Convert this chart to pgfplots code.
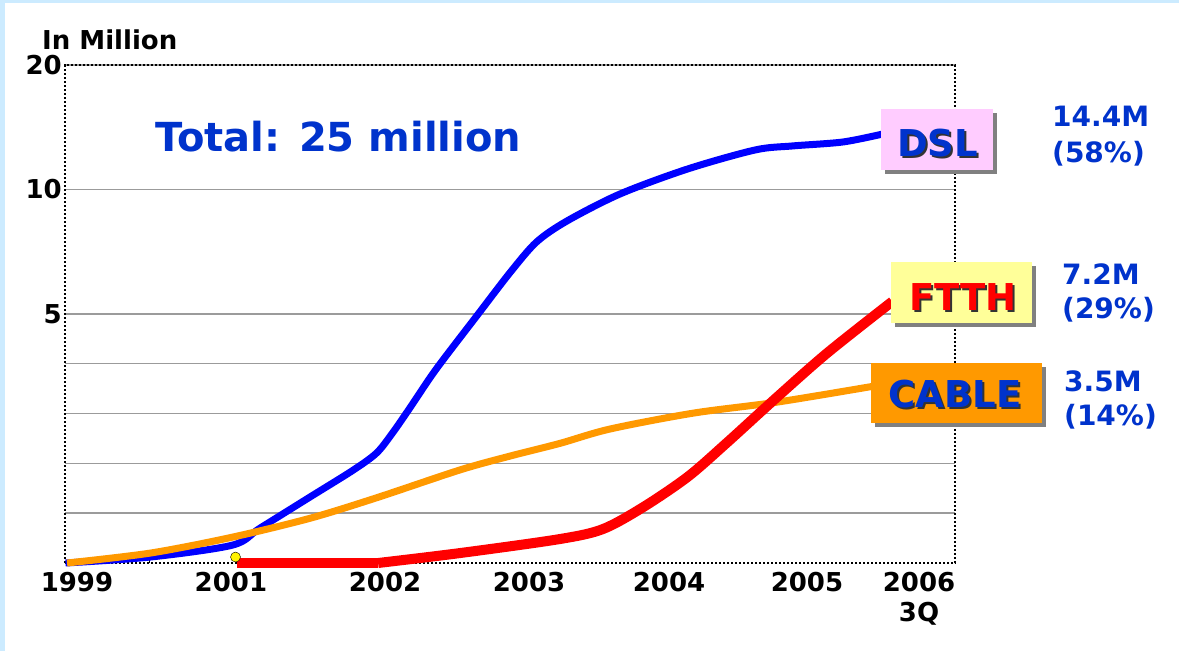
\documentclass[border=0pt]{standalone}
\usepackage{fontspec}
\setmainfont{DejaVu Sans}
\usepackage{pgfplots}
\pgfplotsset{compat=1.18}

\definecolor{bgblue}{RGB}{204,235,255}
\definecolor{txtblue}{RGB}{0,51,204}
\definecolor{lineblue}{RGB}{0,0,255}
\definecolor{lineorange}{RGB}{255,153,0}
\definecolor{gridgray}{RGB}{155,155,155}
\definecolor{pinkbox}{RGB}{255,204,255}
\definecolor{yellowbox}{RGB}{255,255,153}
\definecolor{orangebox}{RGB}{255,153,0}
\definecolor{shadowgray}{RGB}{128,128,128}

\newcommand{\tickfont}{\fontsize{26}{30}\selectfont\bfseries}
\newcommand{\bigfont}{\fontsize{37}{44}\selectfont\bfseries}
\newcommand{\totalfont}{\fontsize{40}{48}\selectfont\bfseries}
\newcommand{\rfont}{\fontsize{28}{33}\selectfont\bfseries}

\newcommand{\shadowtext}[4]{%
  \node[anchor=base, font=\bigfont, text=black!80, inner sep=0pt] at (#1+2,#2-2) {#4};
  \node[anchor=base, font=\bigfont, text=#3, inner sep=0pt] at (#1,#2) {#4};}

\begin{document}
\begin{tikzpicture}
\begin{scope}[x=1pt,y=1pt]
\path[use as bounding box] (0,0) rectangle (1179,651);
\fill[bgblue] (0,0) rectangle (1179,651);
\fill[white] (5,0) rectangle (1179,648);
\end{scope}

\begin{axis}[
  at={(65pt,88pt)}, anchor=south west,
  scale only axis, width=890pt, height=498pt,
  xmin=1999.806, xmax=2005.986,
  ymin=0, ymax=20,
  y coord trafo/.code={\pgfmathparse{(#1<=5)?(#1):((#1<=10)?(5+(#1-5)/2):(7.5+(#1-10)/4))}},
  y coord inv trafo/.code={\pgfmathparse{(#1<=5)?(#1):((#1<=7.5)?(5+2*(#1-5)):(10+4*(#1-7.5)))}},
  axis line style={black, line width=2.7pt, dash pattern=on 2.2pt off 1.8pt},
  xtick={1999.889,2000.958,2002.028,2003.028,2004.0,2004.958,2005.736},
  xticklabels={1999,2001,2002,2003,2004,2005,{2006\\3Q}},
  xtick pos=bottom, ytick pos=left,
  major tick length=0pt, minor tick length=0pt,
  extra x ticks={2000.396}, extra x tick labels={},
  extra x tick style={major tick length=7pt, tick style={black, line width=1pt, solid}},
  ytick={5,10,20}, yticklabels={5,10,20},
  minor ytick={1,2,3,4},
  ymajorgrids, yminorgrids,
  major grid style={gridgray, line width=1.4pt},
  minor grid style={gridgray, line width=1.4pt},
  /pgf/number format/assume math mode=true,
  tick label style={font=\tickfont},
  xticklabel style={align=center, anchor=north, yshift=-6pt},
  yticklabel style={anchor=east, inner xsep=3pt},
  clip=false,
]
% DSL
\addplot[lineblue, line width=7pt, smooth] coordinates {
 (1999.81,0) (2000.40,0.12) (2000.97,0.36) (2001.16,0.70) (2001.51,1.33)
 (2001.81,1.87) (2001.97,2.21) (2002.08,2.61) (2002.20,3.11) (2002.38,3.88)
 (2002.67,4.98) (2002.90,6.69) (2003.08,7.89) (2003.29,8.73) (2003.66,9.82)
 (2004.13,11.65) (2004.60,13.18) (2004.86,13.50) (2005.21,13.82) (2005.50,14.50)
};
% CABLE
\addplot[lineorange, line width=7pt, smooth] coordinates {
 (1999.82,0) (2000.40,0.20) (2000.97,0.52) (2001.51,0.90) (2001.97,1.31)
 (2002.55,1.87) (2002.90,2.15) (2003.24,2.40) (2003.59,2.69) (2004.17,3.01)
 (2004.75,3.23) (2005.42,3.55)
};
% marker at 2001
\addplot[only marks, mark=*, mark size=5pt, mark options={fill=yellow, draw=none}]
  coordinates {(2000.99,0.12)};
% FTTH
\addplot[red, line width=10pt] coordinates {(2001.00,0) (2001.98,0)};
\addplot[red, line width=10pt, smooth] coordinates {
 (2001.98,0) (2002.55,0.20) (2003.24,0.48) (2003.54,0.68) (2003.82,1.12)
 (2004.13,1.73) (2004.40,2.41) (2004.75,3.33) (2005.10,4.22) (2005.55,5.50)
};
\end{axis}

\begin{scope}[x=1pt,y=1pt]
% y-axis unit
\node[anchor=base west, font=\tickfont, inner sep=0pt] at (42,601) {In Million};
% total
\node[anchor=base west, font=\totalfont, text=txtblue, inner sep=0pt] at (155,499) {Total: 25 million};

% series boxes
\fill[shadowgray] (885,477) rectangle (997,538);
\fill[pinkbox] (881,481) rectangle (993,542);
\shadowtext{937.5}{494}{txtblue}{DSL}

\fill[shadowgray] (895,324) rectangle (1036,385);
\fill[yellowbox] (891,328) rectangle (1032,389);
\shadowtext{963}{340}{red}{FTTH}

\fill[shadowgray] (875,224) rectangle (1046,284);
\fill[orangebox] (871,228) rectangle (1042,288);
\shadowtext{955}{243}{txtblue}{CABLE}

% right labels
\node[anchor=base west, font=\rfont, text=txtblue, inner sep=0pt] at (1052,524) {14.4M};
\node[anchor=base west, font=\rfont, text=txtblue, inner sep=0pt] at (1052,488) {(58\%)};
\node[anchor=base west, font=\rfont, text=txtblue, inner sep=0pt] at (1062,366) {7.2M};
\node[anchor=base west, font=\rfont, text=txtblue, inner sep=0pt] at (1062,332) {(29\%)};
\node[anchor=base west, font=\rfont, text=txtblue, inner sep=0pt] at (1064,259) {3.5M};
\node[anchor=base west, font=\rfont, text=txtblue, inner sep=0pt] at (1064,225) {(14\%)};
\end{scope}
\end{tikzpicture}
\end{document}
